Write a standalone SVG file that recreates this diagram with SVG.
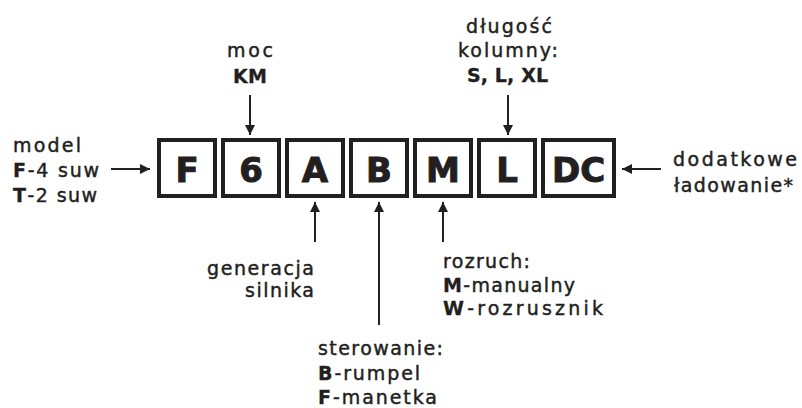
<svg xmlns="http://www.w3.org/2000/svg" width="802" height="408" viewBox="0 0 802 408">
<defs>
<style>
.box{fill:#fff;stroke:#231f20;stroke-width:4}
.big{font-family:"DejaVu Sans",sans-serif;font-weight:bold;font-size:34px;fill:#231f20;stroke:#231f20;stroke-width:1;text-anchor:middle}
.t{font-family:"DejaVu Sans",sans-serif;font-size:19px;fill:#231f20;stroke:#231f20;stroke-width:0.45}
.b{font-weight:bold;stroke-width:0.3}
.c{stroke:#231f20;stroke-width:2;fill:none}
</style>
<marker id="ah" viewBox="0 0 10 10" refX="10" refY="5" markerWidth="5" markerHeight="5" orient="auto" markerUnits="strokeWidth">
<path d="M0,0 L10,5 L0,10 z" fill="#231f20"/>
</marker>
</defs>
<rect width="802" height="408" fill="#fff"/>
<g id="box-F"><rect class="box" x="159" y="140" width="56" height="56"/><text class="big" x="187" y="182">F</text></g>
<g id="box-6"><rect class="box" x="223" y="140" width="56" height="56"/><text class="big" x="251" y="182">6</text></g>
<g id="box-A"><rect class="box" x="287" y="140" width="56" height="56"/><text class="big" x="315" y="182">A</text></g>
<g id="box-B"><rect class="box" x="351" y="140" width="56" height="56"/><text class="big" x="379" y="182">B</text></g>
<g id="box-M"><rect class="box" x="415" y="140" width="56" height="56"/><text class="big" x="443" y="182">M</text></g>
<g id="box-L"><rect class="box" x="479" y="140" width="56" height="56"/><text class="big" x="507" y="182">L</text></g>
<g id="box-DC"><rect class="box" x="543" y="140" width="71" height="56"/><text class="big" x="578.5" y="182">DC</text></g>
<g id="connectors">
<line class="c" x1="111" y1="169" x2="150" y2="169" marker-end="url(#ah)"/>
<line class="c" x1="250" y1="95" x2="250" y2="135" marker-end="url(#ah)"/>
<line class="c" x1="508" y1="95" x2="508" y2="135" marker-end="url(#ah)"/>
<line class="c" x1="315" y1="242" x2="315" y2="202" marker-end="url(#ah)"/>
<line class="c" x1="379" y1="325" x2="379" y2="202" marker-end="url(#ah)"/>
<line class="c" x1="443" y1="242" x2="443" y2="202" marker-end="url(#ah)"/>
<line class="c" x1="661" y1="169" x2="622" y2="169" marker-end="url(#ah)"/>
</g>
<g id="label-model">
<text class="t" x="13" y="152" textLength="68" lengthAdjust="spacing">model</text>
<text class="t" x="13" y="177" textLength="86" lengthAdjust="spacing"><tspan class="b">F</tspan>-4 suw</text>
<text class="t" x="13" y="202" textLength="84" lengthAdjust="spacing"><tspan class="b">T</tspan>-2 suw</text>
</g>
<g id="label-moc">
<text class="t" x="227" y="57" textLength="46" lengthAdjust="spacing">moc</text>
<text class="t b" x="233" y="83" textLength="34" lengthAdjust="spacing">KM</text>
</g>
<g id="label-dlugosc">
<text class="t" x="466" y="33" textLength="86" lengthAdjust="spacing">długość</text>
<text class="t" x="458" y="57" textLength="100" lengthAdjust="spacing">kolumny:</text>
<text class="t b" x="467" y="82" textLength="81" lengthAdjust="spacing">S, L, XL</text>
</g>
<g id="label-dodatkowe">
<text class="t" x="673" y="166" textLength="124" lengthAdjust="spacing">dodatkowe</text>
<text class="t" x="674" y="192" textLength="119" lengthAdjust="spacing">ładowanie*</text>
</g>
<g id="label-generacja">
<text class="t" x="207" y="275" textLength="107" lengthAdjust="spacing">generacja</text>
<text class="t" x="245" y="297" textLength="69" lengthAdjust="spacing">silnika</text>
</g>
<g id="label-rozruch">
<text class="t" x="443" y="268" textLength="87" lengthAdjust="spacing">rozruch:</text>
<text class="t" x="443" y="292" textLength="132" lengthAdjust="spacing"><tspan class="b">M</tspan>-manualny</text>
<text class="t" x="443" y="315" textLength="160" lengthAdjust="spacing"><tspan class="b">W</tspan>-rozrusznik</text>
</g>
<g id="label-sterowanie">
<text class="t" x="318" y="355" textLength="125" lengthAdjust="spacing">sterowanie:</text>
<text class="t" x="318" y="380" textLength="102" lengthAdjust="spacing"><tspan class="b">B</tspan>-rumpel</text>
<text class="t" x="318" y="404" textLength="119" lengthAdjust="spacing"><tspan class="b">F</tspan>-manetka</text>
</g>
</svg>
